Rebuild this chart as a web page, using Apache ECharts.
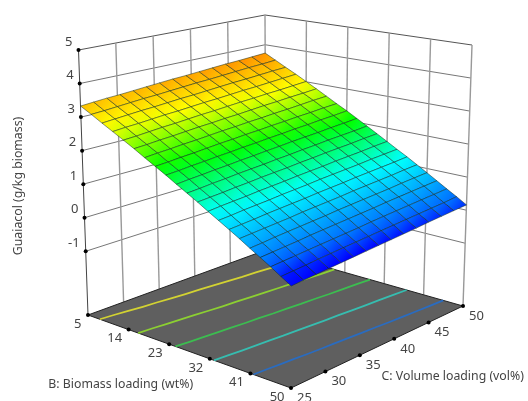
<!DOCTYPE html>
<html><head><meta charset="utf-8">
<style>html,body{margin:0;padding:0;background:#fff}#c{width:528px;height:401px}</style>
<script src="https://cdn.jsdelivr.net/npm/echarts@6/dist/echarts.min.js"></script>
</head><body><div id="c"></div>
<script>
var bTicks=[5,14,23,32,41,50];
var cTicks=[25,30,35,40,45,50];
var zTicks=[-1,0,1,2,3,4,5];
var zFloor=-2.9, zTop=5;
var bGrid=[5,7.25,9.5,11.75,14,16.25,18.5,20.75,23,25.25,27.5,29.75,32,34.25,36.5,38.75,41,43.25,45.5,47.75,50];
var cGrid=[25,26.79,28.57,30.36,32.14,33.93,35.71,37.5,39.29,41.07,42.86,44.64,46.43,48.21,50];
var contourLevels=[3.13,2.48,1.84,1.18,0.51];
var contourColors=['#d2d232','#8ccf32','#3cbd50','#36bdb0','#2a6cc0'];
// guaiacol[i][j]: B = bGrid[i], C = cGrid[j]
var guaiacol=[
[3.33,3.36,3.39,3.41,3.44,3.47,3.50,3.53,3.55,3.58,3.61,3.64,3.66,3.69,3.72],
[3.16,3.18,3.21,3.24,3.27,3.29,3.32,3.35,3.38,3.40,3.43,3.46,3.49,3.51,3.54],
[2.98,3.01,3.04,3.07,3.09,3.12,3.15,3.17,3.20,3.23,3.26,3.28,3.31,3.34,3.36],
[2.81,2.84,2.86,2.89,2.92,2.94,2.97,3.00,3.02,3.05,3.08,3.10,3.13,3.16,3.19],
[2.64,2.66,2.69,2.72,2.74,2.77,2.80,2.82,2.85,2.88,2.90,2.93,2.95,2.98,3.01],
[2.47,2.49,2.52,2.54,2.57,2.60,2.62,2.65,2.67,2.70,2.73,2.75,2.78,2.80,2.83],
[2.29,2.32,2.34,2.37,2.39,2.42,2.45,2.47,2.50,2.52,2.55,2.57,2.60,2.63,2.65],
[2.12,2.14,2.17,2.19,2.22,2.25,2.27,2.30,2.32,2.35,2.37,2.40,2.42,2.45,2.47],
[1.95,1.97,2.00,2.02,2.05,2.07,2.10,2.12,2.15,2.17,2.20,2.22,2.25,2.27,2.30],
[1.77,1.80,1.82,1.85,1.87,1.90,1.92,1.95,1.97,2.00,2.02,2.04,2.07,2.09,2.12],
[1.60,1.62,1.65,1.67,1.70,1.72,1.74,1.77,1.79,1.82,1.84,1.87,1.89,1.91,1.94],
[1.43,1.45,1.47,1.50,1.52,1.55,1.57,1.59,1.62,1.64,1.67,1.69,1.71,1.74,1.76],
[1.25,1.28,1.30,1.32,1.35,1.37,1.39,1.42,1.44,1.46,1.49,1.51,1.53,1.56,1.58],
[1.08,1.10,1.13,1.15,1.17,1.20,1.22,1.24,1.27,1.29,1.31,1.33,1.36,1.38,1.40],
[0.91,0.93,0.95,0.98,1.00,1.02,1.04,1.07,1.09,1.11,1.14,1.16,1.18,1.20,1.23],
[0.74,0.76,0.78,0.80,0.82,0.85,0.87,0.89,0.91,0.94,0.96,0.98,1.00,1.03,1.05],
[0.56,0.58,0.61,0.63,0.65,0.67,0.69,0.72,0.74,0.76,0.78,0.80,0.83,0.85,0.87],
[0.39,0.41,0.43,0.45,0.48,0.50,0.52,0.54,0.56,0.58,0.61,0.63,0.65,0.67,0.69],
[0.22,0.24,0.26,0.28,0.30,0.32,0.34,0.36,0.39,0.41,0.43,0.45,0.47,0.49,0.51],
[0.04,0.06,0.08,0.11,0.13,0.15,0.17,0.19,0.21,0.23,0.25,0.27,0.29,0.31,0.34],
[-0.13,-0.11,-0.09,-0.07,-0.05,-0.03,-0.01,0.01,0.03,0.05,0.07,0.10,0.12,0.14,0.16]
];

var box={
 b0c0:[[88,315],[78.5,50]],
 b1c0:[[291,388],[291.7,97]],
 b1c1:[[463,306],[472,45]],
 b0c1:[[266,250],[265,15]]
};
function project(b,c,z){
 var u=(b-5)/45,v=(c-25)/25,w=(z-zFloor)/(zTop-zFloor),out=[0,0];
 for(var k=0;k<2;k++){
  var f=(1-u)*(1-v)*box.b0c0[0][k]+u*(1-v)*box.b1c0[0][k]+u*v*box.b1c1[0][k]+(1-u)*v*box.b0c1[0][k];
  var t=(1-u)*(1-v)*box.b0c0[1][k]+u*(1-v)*box.b1c0[1][k]+u*v*box.b1c1[1][k]+(1-u)*v*box.b0c1[1][k];
  out[k]=f+(t-f)*w;
 }
 return out;
}
var colorZ=[-0.02,0.3,1.2,2.1,2.95,3.8];
var colorRGB=[[0,0,255],[0,110,255],[0,255,255],[0,255,0],[255,255,0],[255,130,0]];
function colorOf(z){
 if(z<=colorZ[0])return 'rgb('+colorRGB[0]+')';
 for(var i=1;i<colorZ.length;i++){
  if(z<=colorZ[i]){
   var t=(z-colorZ[i-1])/(colorZ[i]-colorZ[i-1]),a=colorRGB[i-1],b=colorRGB[i];
   return 'rgb('+Math.round(a[0]+(b[0]-a[0])*t)+','+Math.round(a[1]+(b[1]-a[1])*t)+','+Math.round(a[2]+(b[2]-a[2])*t)+')';
  }
 }
 return 'rgb('+colorRGB[colorRGB.length-1]+')';
}

var lines=[];
var bMin=bTicks[0],bMax=bTicks[5],cMin=cTicks[0],cMax=cTicks[5];
zTicks.forEach(function(z){
 var top=z===zTop;
 lines.push([[bMin,cMin,z],[bMin,cMax,z],top?'#555':'#777',1]);
 lines.push([[bMin,cMax,z],[bMax,cMax,z],top?'#555':'#777',1]);
});
cTicks.forEach(function(c,i){ if(i<5) lines.push([[bMin,c,zFloor],[bMin,c,zTop],i===0?'#444':'#999',i===0?1:1.4]); });
lines.push([[bMin,cMax,zFloor],[bMin,cMax,zTop],'#999',1.4]);
bTicks.forEach(function(b,i){ if(i>0) lines.push([[b,cMax,zFloor],[b,cMax,zTop],'#999',1.4]); });

var cells=[];
for(var i=0;i<bGrid.length-1;i++)for(var j=0;j<cGrid.length-1;j++)cells.push([i,j]);

var tickPts=[];
bTicks.forEach(function(b){tickPts.push([b,cMin,zFloor]);});
cTicks.forEach(function(c,i){if(i>0)tickPts.push([bMax,c,zFloor]);});
zTicks.forEach(function(z){tickPts.push([bMin,cMin,z]);});

var tickFont='13px "Noto Sans"', titleFont='12.3px "Noto Sans"', txt='#444';
var labels=[];
zTicks.forEach(function(z){labels.push({s:String(z),p:[bMin,cMin,z],dx:-6,dy:-8,a:'right'});});
bTicks.forEach(function(b){labels.push({s:String(b),p:[b,cMin,zFloor],dx:-6.5,dy:9,a:'right'});});
cTicks.forEach(function(c){labels.push({s:String(c),p:[bMax,c,zFloor],dx:6,dy:10,a:'left'});});

function custom(data,render){
 return {type:'custom',coordinateSystem:'none',silent:true,animation:false,clip:false,data:data,renderItem:render};
}
var chart=echarts.init(document.getElementById('c'),null,{renderer:'canvas'});
chart.setOption({
 animation:false,
 backgroundColor:'#fff',
 series:[
  custom(lines.map(function(l,i){return [i];}),function(p){
   var l=lines[p.dataIndex],a=project.apply(null,l[0]),b=project.apply(null,l[1]);
   return {type:'line',shape:{x1:a[0],y1:a[1],x2:b[0],y2:b[1]},style:{stroke:l[2],lineWidth:l[3]}};
  }),
  custom([[0]],function(){
   return {type:'polygon',shape:{points:[project(bMin,cMin,zFloor),project(bMax,cMin,zFloor),project(bMax,cMax,zFloor),project(bMin,cMax,zFloor)]},
    style:{fill:'#5f5f5f',stroke:'#222',lineWidth:1}};
  }),
  custom(contourLevels.map(function(l){return [l];}),function(p){
   var L=contourLevels[p.dataIndex],pts=[];
   cGrid.forEach(function(c,j){
    for(var i=0;i<bGrid.length-1;i++){
     var a=guaiacol[i][j],b=guaiacol[i+1][j];
     if(a>=L&&b<L){var t=(a-L)/(a-b);pts.push(project(bGrid[i]+t*(bGrid[i+1]-bGrid[i]),c,zFloor));break;}
    }
   });
   return {type:'polyline',shape:{points:pts},style:{fill:'none',stroke:contourColors[p.dataIndex],lineWidth:1.8}};
  }),
  custom(cells,function(p){
   var i=cells[p.dataIndex][0],j=cells[p.dataIndex][1];
   var q=[project(bGrid[i],cGrid[j],guaiacol[i][j]),project(bGrid[i+1],cGrid[j],guaiacol[i+1][j]),
          project(bGrid[i+1],cGrid[j+1],guaiacol[i+1][j+1]),project(bGrid[i],cGrid[j+1],guaiacol[i][j+1])];
   var za=(guaiacol[i][j]+guaiacol[i][j+1])/2, zb=(guaiacol[i+1][j]+guaiacol[i+1][j+1])/2;
   var g=new echarts.graphic.LinearGradient((q[0][0]+q[3][0])/2,(q[0][1]+q[3][1])/2,(q[1][0]+q[2][0])/2,(q[1][1]+q[2][1])/2,
     [{offset:0,color:colorOf(za)},{offset:1,color:colorOf(zb)}],true);
   return {type:'polygon',shape:{points:q},style:{fill:g,stroke:'rgba(15,40,30,0.55)',lineWidth:0.9}};
  }),
  custom(tickPts.map(function(t,i){return [i];}),function(p){
   var a=project.apply(null,tickPts[p.dataIndex]);
   return {type:'circle',shape:{cx:a[0],cy:a[1],r:2},style:{fill:'#000'}};
  }),
  custom(labels.map(function(t,i){return [i];}),function(p){
   var l=labels[p.dataIndex],a=project.apply(null,l.p);
   return {type:'text',x:a[0]+l.dx,y:a[1]+l.dy,style:{text:l.s,font:tickFont,fill:txt,textAlign:l.a,textVerticalAlign:'middle'}};
  })
 ],
 graphic:[
  {type:'text',x:120.7,y:384.3,style:{text:'B: Biomass loading (wt%)',font:titleFont,fill:txt,textAlign:'center',textVerticalAlign:'middle'}},
  {type:'text',x:452.7,y:376,style:{text:'C: Volume loading (vol%)',font:titleFont,fill:txt,textAlign:'center',textVerticalAlign:'middle'}},
  {type:'text',x:18,y:186,rotation:Math.PI/2,style:{text:'Guaiacol (g/kg biomass)',font:titleFont,fill:txt,textAlign:'center',textVerticalAlign:'middle'}}
 ]
});
</script></body></html>
